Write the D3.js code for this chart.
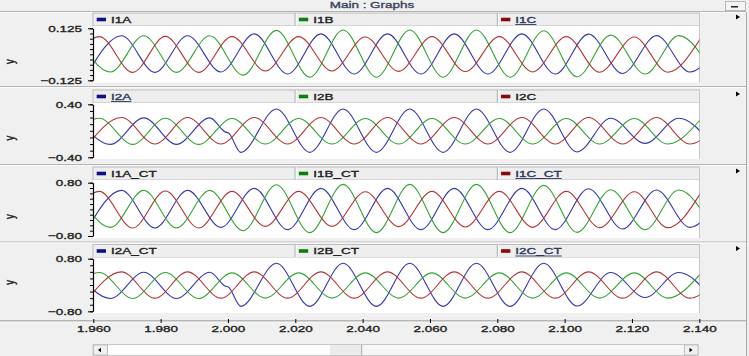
<!DOCTYPE html>
<html><head><meta charset="utf-8">
<script src="https://cdn.jsdelivr.net/npm/d3@7"></script>
<style>html,body{margin:0;padding:0;background:#f0f0f0;overflow:hidden}svg{display:block}</style>
</head><body><svg id="c" width="749" height="356"></svg>
<script>
// ---------------- DATA (extrema: [time s, value]) ----------------
const TIME_DOMAIN = [1.96, 2.14];
const X_TICKS = [1.96, 1.98, 2.00, 2.02, 2.04, 2.06, 2.08, 2.10, 2.12, 2.14];

const I1A = [[1.9585,-0.085],[1.9684,0.089],[1.9783,-0.087],[1.9880,0.089],[1.9979,-0.085],[2.0078,0.098],[2.0177,-0.095],[2.0276,0.098],[2.0375,-0.095],[2.0474,0.098],[2.0573,-0.095],[2.0672,0.098],[2.0772,-0.095],[2.0873,0.098],[2.0972,-0.095],[2.1071,0.097],[2.1172,-0.092],[2.1273,0.090],[2.1372,-0.085],[2.1471,0.085]];
const I1B = [[1.9552,0.085],[1.9651,-0.085],[1.9750,0.089],[1.9847,-0.087],[1.9946,0.089],[2.0045,-0.100],[2.0144,0.115],[2.0243,-0.110],[2.0342,0.117],[2.0441,-0.110],[2.0540,0.117],[2.0639,-0.110],[2.0738,0.117],[2.0838,-0.110],[2.0938,0.113],[2.1037,-0.108],[2.1137,0.092],[2.1239,-0.095],[2.1339,0.090],[2.1438,-0.088]];
const I1C = [[1.9519,-0.085],[1.9618,0.085],[1.9717,-0.087],[1.9814,0.086],[1.9913,-0.087],[2.0012,0.085],[2.0111,-0.080],[2.0210,0.085],[2.0309,-0.080],[2.0408,0.083],[2.0507,-0.082],[2.0606,0.085],[2.0705,-0.083],[2.0806,0.085],[2.0905,-0.085],[2.1005,0.085],[2.1104,-0.086],[2.1207,0.083],[2.1306,-0.086],[2.1406,0.082]];

const I2A = [[1.9552,0.195],[1.9651,-0.205],[1.9750,0.195],[1.9847,-0.205],[1.9946,0.195],[1.9993,-0.020],[2.0001,-0.030],[2.0038,-0.325],[2.0144,0.330],[2.0243,-0.325],[2.0342,0.330],[2.0441,-0.325],[2.0540,0.330],[2.0639,-0.325],[2.0738,0.330],[2.0838,-0.325],[2.0938,0.330],[2.1037,-0.320],[2.1137,0.190],[2.1239,-0.190],[2.1339,0.190],[2.1438,-0.210]];
const I2B = [[1.9519,-0.200],[1.9618,0.190],[1.9717,-0.205],[1.9814,0.190],[1.9913,-0.205],[2.0012,0.185],[2.0111,-0.200],[2.0210,0.185],[2.0309,-0.200],[2.0408,0.185],[2.0507,-0.200],[2.0606,0.185],[2.0705,-0.200],[2.0806,0.185],[2.0905,-0.200],[2.1005,0.185],[2.1104,-0.200],[2.1207,0.185],[2.1306,-0.200],[2.1406,0.185]];
const I2C = [[1.9585,-0.200],[1.9684,0.200],[1.9783,-0.200],[1.9880,0.200],[1.9979,-0.200],[2.0078,0.200],[2.0177,-0.200],[2.0276,0.200],[2.0375,-0.200],[2.0474,0.200],[2.0573,-0.200],[2.0672,0.200],[2.0772,-0.200],[2.0873,0.200],[2.0972,-0.200],[2.1071,0.200],[2.1172,-0.200],[2.1273,0.200],[2.1372,-0.200],[2.1471,0.200]];

const I1A_CT = [[1.9585,-0.54],[1.9684,0.57],[1.9783,-0.56],[1.9880,0.57],[1.9979,-0.54],[2.0078,0.63],[2.0177,-0.61],[2.0276,0.63],[2.0375,-0.61],[2.0474,0.63],[2.0573,-0.61],[2.0672,0.63],[2.0772,-0.61],[2.0873,0.63],[2.0972,-0.61],[2.1071,0.62],[2.1172,-0.59],[2.1273,0.58],[2.1372,-0.54],[2.1471,0.54]];
const I1B_CT = [[1.9552,0.54],[1.9651,-0.54],[1.9750,0.57],[1.9847,-0.56],[1.9946,0.57],[2.0045,-0.64],[2.0144,0.74],[2.0243,-0.70],[2.0342,0.75],[2.0441,-0.70],[2.0540,0.75],[2.0639,-0.70],[2.0738,0.75],[2.0838,-0.70],[2.0938,0.72],[2.1037,-0.69],[2.1137,0.59],[2.1239,-0.61],[2.1339,0.58],[2.1438,-0.56]];
const I1C_CT = [[1.9519,-0.54],[1.9618,0.54],[1.9717,-0.56],[1.9814,0.55],[1.9913,-0.56],[2.0012,0.54],[2.0111,-0.51],[2.0210,0.54],[2.0309,-0.51],[2.0408,0.53],[2.0507,-0.52],[2.0606,0.54],[2.0705,-0.53],[2.0806,0.54],[2.0905,-0.54],[2.1005,0.54],[2.1104,-0.55],[2.1207,0.53],[2.1306,-0.55],[2.1406,0.52]];

const I2A_CT = [[1.9552,0.39],[1.9651,-0.41],[1.9750,0.39],[1.9847,-0.41],[1.9946,0.39],[1.9993,-0.04],[2.0001,-0.06],[2.0038,-0.65],[2.0144,0.66],[2.0243,-0.65],[2.0342,0.66],[2.0441,-0.65],[2.0540,0.66],[2.0639,-0.65],[2.0738,0.66],[2.0838,-0.65],[2.0938,0.66],[2.1037,-0.64],[2.1137,0.38],[2.1239,-0.38],[2.1339,0.38],[2.1438,-0.42]];
const I2B_CT = [[1.9519,-0.40],[1.9618,0.38],[1.9717,-0.41],[1.9814,0.38],[1.9913,-0.41],[2.0012,0.37],[2.0111,-0.40],[2.0210,0.37],[2.0309,-0.40],[2.0408,0.37],[2.0507,-0.40],[2.0606,0.37],[2.0705,-0.40],[2.0806,0.37],[2.0905,-0.40],[2.1005,0.37],[2.1104,-0.40],[2.1207,0.37],[2.1306,-0.40],[2.1406,0.37]];
const I2C_CT = [[1.9585,-0.40],[1.9684,0.40],[1.9783,-0.40],[1.9880,0.40],[1.9979,-0.40],[2.0078,0.40],[2.0177,-0.40],[2.0276,0.40],[2.0375,-0.40],[2.0474,0.40],[2.0573,-0.40],[2.0672,0.40],[2.0772,-0.40],[2.0873,0.40],[2.0972,-0.40],[2.1071,0.40],[2.1172,-0.40],[2.1273,0.40],[2.1372,-0.40],[2.1471,0.40]];

const PANEL_SERIES = [
  [["I1A", I1A], ["I1B", I1B], ["I1C", I1C]],
  [["I2A", I2A], ["I2B", I2B], ["I2C", I2C]],
  [["I1A_CT", I1A_CT], ["I1B_CT", I1B_CT], ["I1C_CT", I1C_CT]],
  [["I2A_CT", I2A_CT], ["I2B_CT", I2B_CT], ["I2C_CT", I2C_CT]]
];
const Y_MAX = [0.125, 0.40, 0.80, 0.80];
const Y_MINOR = [0.025, 0.10, 0.16, 0.20];
const Y_FMT = [".3f", ".2f", ".2f", ".2f"];
const UNDERLINED = ["I1C", "I2A", "I1C_CT", "I2C_CT"];
const TITLE = "Main : Graphs";
const AXIS_TITLE = "y";

// ---------------- STYLE / LAYOUT ----------------
const LINE_COL = ["#3434b4", "#34a434", "#b43434"];
const SWATCH_COL = ["#10108a", "#08800a", "#8a0808"];
const FONT = "'Liberation Sans', Arial, sans-serif";
const FS = 9.3, SX = 1.45, TXT = "#222";
const X0 = 93.3, X1 = 699.3, PL = 93, PR = 699.5;
const LAYOUT = [
  {strip:[13,26],   white:[26,82.5],  ty:[28.3,80.3],  ytitle:61.7},
  {strip:[90,103],  white:[103,159],  ty:[104.3,157.3],ytitle:138.3},
  {strip:[167,180], white:[180,238],  ty:[182.7,236],  ytitle:216.7},
  {strip:[244.5,257.5],white:[257.5,313],ty:[258.7,311.3],ytitle:282.5}
];
const SEPS = [11.5, 86.5, 164.5, 242];

const svg = d3.select("#c");
svg.append("rect").attr("width",749).attr("height",356).attr("fill","#f0f0f0");

function heavy(sel, col) {
  return sel.attr("stroke", col).attr("stroke-width", 0.35).attr("paint-order", "stroke");
}
function stext(g, x, y, s, anchor, opts={}) {
  const col = opts.fill || TXT;
  const t = g.append("text").attr("transform", `translate(${x},${y}) scale(${SX},1)` + (opts.rot ? " rotate(-90)" : ""))
    .attr("text-anchor", anchor || "start").attr("font-family", FONT).attr("font-size", FS)
    .attr("fill", col).text(s);
  heavy(t, col);
  return t;
}

// title bar
stext(svg, 372, 8.3, TITLE, "middle", {fill:"#3a4660"});
svg.append("rect").attr("x",725.5).attr("y",1.5).attr("width",20).attr("height",9).attr("fill","#f4f4f4").attr("stroke","#b8b8b8");
svg.append("line").attr("x1",731).attr("x2",738).attr("y1",6.8).attr("y2",6.8).attr("stroke","#000").attr("stroke-width",1.3);
SEPS.forEach(s => {
  svg.append("line").attr("x1",0).attr("x2",746).attr("y1",s).attr("y2",s).attr("stroke","#b4b4b4");
  svg.append("line").attr("x1",0).attr("x2",746).attr("y1",s+1).attr("y2",s+1).attr("stroke","#fafafa");
});
svg.append("line").attr("x1",746.5).attr("x2",746.5).attr("y1",12).attr("y2",356).attr("stroke","#a8a8a8");

const x = d3.scaleLinear().domain(TIME_DOMAIN).range([X0, X1]);

PANEL_SERIES.forEach((series, i) => {
  const L = LAYOUT[i];
  const g = svg.append("g");
  const y = d3.scaleLinear().domain([-Y_MAX[i], Y_MAX[i]]).range([L.ty[1], L.ty[0]]);

  // legend strip
  g.append("rect").attr("x",PL).attr("y",L.strip[0]).attr("width",PR-PL).attr("height",L.strip[1]-L.strip[0])
    .attr("fill","#eeeeee").attr("stroke","#b0b0b0").attr("stroke-width",0.8);
  const secW = (PR - PL) / 3;
  series.forEach(([name], j) => {
    const sx = PL + j * secW;
    if (j > 0) {
      g.append("line").attr("x1",sx).attr("x2",sx).attr("y1",L.strip[0]).attr("y2",L.strip[1]).attr("stroke","#a0a0a0");
      g.append("line").attr("x1",sx+1).attr("x2",sx+1).attr("y1",L.strip[0]).attr("y2",L.strip[1]).attr("stroke","#fff");
    }
    const cy = (L.strip[0] + L.strip[1]) / 2;
    g.append("rect").attr("x",sx+3.7).attr("y",cy-1.8).attr("width",9.3).attr("height",3.6).attr("fill",SWATCH_COL[j]);
    const ul = UNDERLINED.includes(name);
    const t = stext(g, sx+18, cy+3.3, name, "start", {fill: ul ? "#2c3a58" : TXT});
    if (ul) {
      const w = t.node().getComputedTextLength() * SX;
      g.append("line").attr("x1",sx+18).attr("x2",sx+18+w).attr("y1",cy+5).attr("y2",cy+5).attr("stroke","#2c3a58").attr("stroke-width",0.9);
    }
  });
  // right arrow
  g.append("path").attr("d",`M736,${L.strip[0]+1.5} l4,2.5 l-4,2.5z`).attr("fill","#000");

  // white plot area
  g.append("rect").attr("x",PL).attr("y",L.white[0]).attr("width",PR-PL).attr("height",L.white[1]-L.white[0]).attr("fill","#fff");
  g.append("line").attr("x1",PR).attr("x2",PR).attr("y1",L.strip[0]).attr("y2",L.white[1]).attr("stroke","#c8c8c8");

  const clipId = "clip" + i;
  g.append("clipPath").attr("id", clipId).append("rect").attr("x",PL+0.5).attr("y",L.white[0]).attr("width",PR-PL-0.5).attr("height",L.white[1]-L.white[0]);

  const line = d3.line().x(d => x(d[0])).y(d => y(d[1])).curve(d3.curveMonotoneX);
  const lg = g.append("g").attr("clip-path", `url(#${clipId})`);
  series.forEach(([name, data], j) => {
    lg.append("path").datum(data).attr("d", line).attr("fill","none").attr("stroke",LINE_COL[j]).attr("stroke-width",1.1);
  });

  // y axis: minor ticks
  const minor = d3.range(-Y_MAX[i], Y_MAX[i] + 1e-9, Y_MINOR[i]);
  g.append("g").attr("transform",`translate(${PL},0)`)
    .call(d3.axisLeft(y).tickValues(minor).tickSize(3).tickFormat(""))
    .call(a => a.select(".domain").remove())
    .selectAll("line").attr("stroke","#000");
  const ax = g.append("g").attr("transform",`translate(${PL},0)`)
    .call(d3.axisLeft(y).tickValues([Y_MAX[i], -Y_MAX[i]]).tickSize(5).tickSizeOuter(0).tickFormat(d3.format(Y_FMT[i])));
  ax.select(".domain").attr("stroke","#000").attr("stroke-width",1.2);
  ax.selectAll("line").attr("stroke","#000");
  heavy(ax.selectAll("text").attr("x", -11 / SX).attr("transform", `scale(${SX},1)`)
    .attr("font-family", FONT).attr("font-size", FS).attr("fill", TXT), TXT);

  // axis title
  stext(g, 13.9, L.ytitle, AXIS_TITLE, "middle", {rot:true});
});

// x axis
svg.append("line").attr("x1",0).attr("x2",746).attr("y1",321).attr("y2",321).attr("stroke","#7a7a7a");
svg.append("line").attr("x1",0).attr("x2",746).attr("y1",322).attr("y2",322).attr("stroke","#fafafa");
const xa = svg.append("g").attr("transform","translate(0,321)")
  .call(d3.axisBottom(x).tickValues(X_TICKS).tickSize(3).tickSizeOuter(0).tickFormat(d3.format(".3f")));
xa.select(".domain").remove();
xa.selectAll("line").attr("stroke","#000").attr("y1",-2).attr("y2",2);
heavy(xa.selectAll("text").attr("y", 4.3).attr("dy","0.71em").attr("transform",`scale(${SX},1)`)
  .attr("font-family", FONT).attr("font-size", FS).attr("fill", TXT), TXT);

// scrollbar
const sb = svg.append("g");
sb.append("rect").attr("x",93).attr("y",344.5).attr("width",605).attr("height",11).attr("fill","#f6f6f6").attr("stroke","#c8c8c8");
sb.append("rect").attr("x",108).attr("y",345).attr("width",222).attr("height",10).attr("fill","#fdfdfd");
sb.append("rect").attr("x",330).attr("y",345).attr("width",31.5).attr("height",10).attr("fill","#ebebeb");
sb.append("line").attr("x1",361.7).attr("x2",361.7).attr("y1",345).attr("y2",355).attr("stroke","#a8a8a8");
sb.append("rect").attr("x",93.5).attr("y",345).attr("width",14).attr("height",10).attr("fill","#f0f0f0").attr("stroke","#c0c0c0");
sb.append("path").attr("d","M98,350 l3,-2.2 v4.4z").attr("fill","#000");
sb.append("rect").attr("x",684.5).attr("y",345).attr("width",13.5).attr("height",10).attr("fill","#f0f0f0").attr("stroke","#c0c0c0");
sb.append("path").attr("d","M689.5,347.8 l3,2.2 l-3,2.2z").attr("fill","#000");
</script>
</body></html>
